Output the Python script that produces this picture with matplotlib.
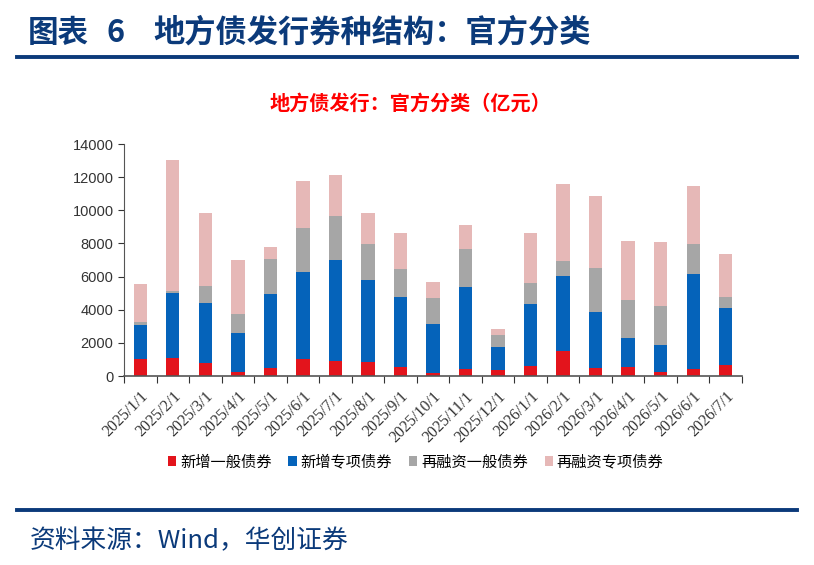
import matplotlib
matplotlib.use("Agg")
import matplotlib.pyplot as plt
from matplotlib.lines import Line2D
import numpy as np

plt.rcParams['font.family'] = ['Noto Sans CJK SC', 'DejaVu Sans']

months = ['2025/1/1', '2025/2/1', '2025/3/1', '2025/4/1', '2025/5/1', '2025/6/1',
          '2025/7/1', '2025/8/1', '2025/9/1', '2025/10/1', '2025/11/1', '2025/12/1',
          '2026/1/1', '2026/2/1', '2026/3/1', '2026/4/1', '2026/5/1', '2026/6/1',
          '2026/7/1']

# 亿元
new_general = [1000, 1070, 760, 260, 500, 1000, 900, 870, 540, 180,
               420, 380, 600, 1530, 480, 520, 260, 420, 640]
new_special = [2100, 3960, 3620, 2330, 4470, 5290, 6130, 4900, 4240, 2980,
               4950, 1370, 3720, 4520, 3380, 1770, 1610, 5730, 3440]
refi_general = [140, 100, 1050, 1150, 2070, 2650, 2610, 2190, 1670, 1550,
                2290, 700, 1270, 870, 2650, 2290, 2330, 1810, 680]
refi_special = [2330, 7920, 4380, 3240, 740, 2840, 2470, 1850, 2190, 990,
                1450, 400, 3060, 4680, 4340, 3540, 3860, 3520, 2610]

series_names = ['新增一般债券', '新增专项债券', '再融资一般债券', '再融资专项债券']
colors = ['#E3141C', '#0563BA', '#A6A6A6', '#E6B8B7']
navy = '#0B3A7A'

fig = plt.figure(figsize=(8.14, 5.65), dpi=100)

# header / footer
fig.text(28 / 814, 1 - 33 / 565, '图表',
         fontsize=22, fontweight='bold', color=navy, va='center', ha='left')
fig.text(106 / 814, 1 - 33 / 565, '6',
         fontsize=22, fontweight='bold', color=navy, va='center', ha='left')
fig.text(153 / 814, 1 - 33 / 565, '地方债发行券种结构：官方分类',
         fontsize=22.5, fontweight='bold', color=navy, va='center', ha='left')
fig.add_artist(Line2D([17 / 814, 797 / 814], [1 - 57 / 565] * 2, color=navy, lw=2.8))
fig.text(410 / 814, 1 - 103 / 565, '地方债发行：官方分类（亿元）',
         fontsize=14.5, fontweight='bold', color='#FF0000', va='center', ha='center')
fig.add_artist(Line2D([17 / 814, 797 / 814], [1 - 510 / 565] * 2, color=navy, lw=2.8))
fig.text(30 / 814, 1 - 541 / 565, '资料来源：Wind，华创证券',
         fontsize=18.5, color=navy, va='center', ha='left')

ax = fig.add_axes([124 / 814, 1 - 376 / 565, 618 / 814, 232 / 565])
x = np.arange(len(months))
bottom = np.zeros(len(months))
for vals, name, col in zip([new_general, new_special, refi_general, refi_special],
                           series_names, colors):
    ax.bar(x, vals, width=0.41, bottom=bottom, color=col, label=name)
    bottom += np.array(vals)

ax.set_xlim(-0.5, len(months) - 0.5)
ax.set_ylim(0, 14000)
ax.set_yticks(np.arange(0, 14001, 2000))
for lab in ax.get_yticklabels():
    lab.set_family(['Liberation Sans'])
ax.tick_params(axis='y', labelsize=10.5, colors='#333333', length=4, direction='out')

ax.set_xticks(np.arange(len(months) + 1) - 0.5)
ax.set_xticklabels([])
ax.tick_params(axis='x', which='major', length=5, direction='out', color='#333333')
ax.set_xticks(x, minor=True)
ax.set_xticklabels(months, minor=True, rotation=45, ha='right', rotation_mode='anchor',
                   fontsize=11.5, family=['Liberation Serif'], color='#333333')
ax.tick_params(axis='x', which='minor', length=0, pad=9)

for s in ['top', 'right']:
    ax.spines[s].set_visible(False)
ax.spines['left'].set_color('#555555')
ax.spines['bottom'].set_color('#555555')
ax.spines['bottom'].set_linewidth(1.2)

ax.legend(loc='center', bbox_to_anchor=(0.472, -0.37), ncol=4, frameon=False,
          fontsize=11, handlelength=0.55, handleheight=0.55, handletextpad=0.25,
          columnspacing=1.1)

fig.savefig('out.png', dpi=100)
